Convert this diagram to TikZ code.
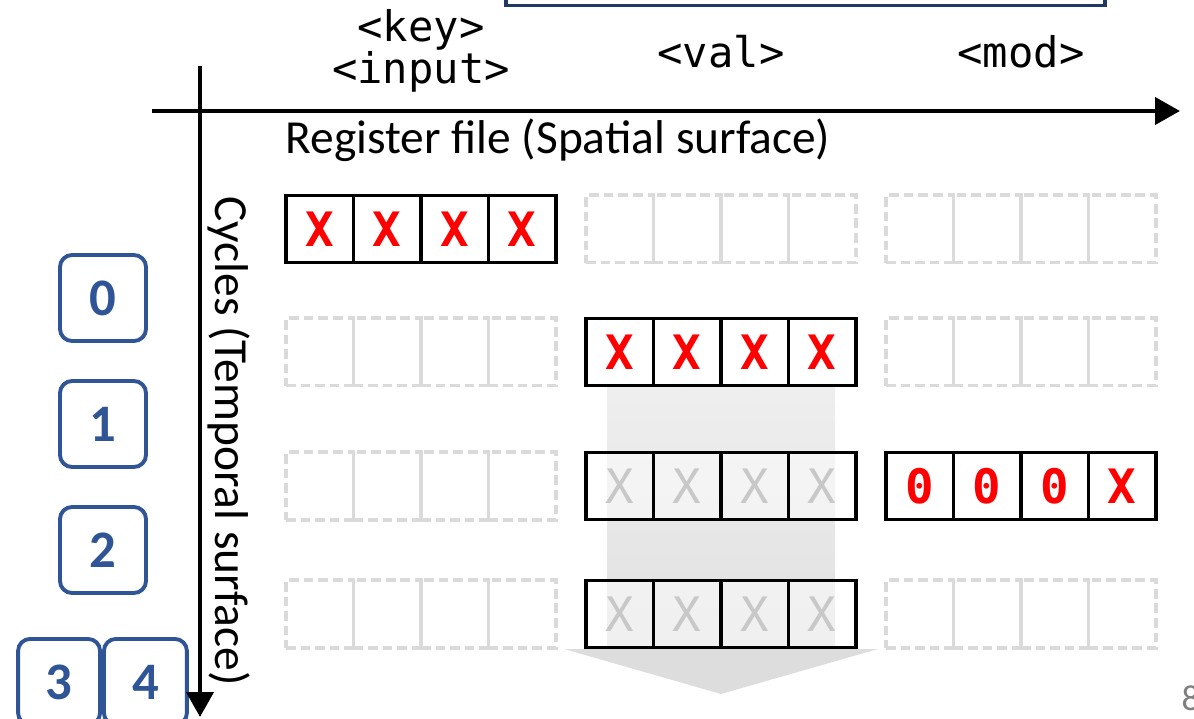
\documentclass[tikz,border=0pt]{standalone}
\usepackage{fontspec}
\setmainfont{Carlito}
\setmonofont{DejaVu Sans Mono}
\usepackage{tikz}
\usetikzlibrary{arrows.meta, positioning}
\usepackage{xcolor}

\definecolor{cycblue}{HTML}{2F5597}
\definecolor{navy}{HTML}{203864}
\definecolor{ghostgray}{HTML}{DADADA}
\definecolor{fadedx}{HTML}{C8C8C8}
\definecolor{pagegray}{HTML}{7F7F7F}

\begin{document}
\begin{tikzpicture}[x=0.02cm, y=-0.02cm, thick, >={Triangle[length=0.5cm, width=0.54cm]}]

		% Define styles
		\tikzstyle{axis} = [line width=2.3pt, black]
		\tikzstyle{cell} = [rectangle, draw, line width=1.8pt, fill=white, minimum size=1.35cm, inner sep=0pt, text centered, text=red, font=\fontsize{27}{30}\selectfont\ttfamily\bfseries]
		\tikzstyle{faded} = [cell, fill opacity=0.5, text opacity=1, text=fadedx, font=\fontsize{27}{30}\selectfont\ttfamily]
		\tikzstyle{ghost} = [rectangle, draw=ghostgray, line width=2pt, dash pattern=on 5.5pt off 2.8pt, minimum size=1.35cm, inner sep=0pt]
		\tikzstyle{cycbox} = [rectangle, draw=cycblue, line width=2.2pt, rounded corners=0.24cm, fill=white, minimum size=1.72cm, inner sep=0pt, text=cycblue, font=\fontsize{30}{32}\selectfont\bfseries]
		\tikzstyle{label} = [font=\fontsize{27}{30}\selectfont]
		\tikzstyle{field} = [font=\fontsize{24}{28}\selectfont\ttfamily]

		\clip (0,0) rectangle (1194,719);

		% Banner at the top edge
		\node[rectangle, draw=navy, line width=1.8pt, fill=white, minimum width=11.98cm, minimum height=1cm, anchor=south] (banner) at (805.5,7) {};

		% Data flow band
		\shade[top color=gray!13, bottom color=gray!24] (607,386) rectangle (835,648);
		\fill[gray!27] (564,649) -- (878,649) -- (721,694) -- cycle;

		% Empty registers
		\foreach \row/\yy/\grp/\xx in {0/229/val/586, 0/229/mod/886, 1/352/key/286, 1/352/mod/886, 2/486/key/286, 3/614/key/286, 3/614/mod/886}
			\foreach \i in {1,...,4}
				\node[ghost] (\grp\row-\i) at ({\xx+67.5*\i-33.75},\yy) {};

		% Written registers
		\foreach \t [count=\i] in {X,X,X,X}
			\node[cell] (key0-\i) at ({286+67.5*\i-33.75},229) {\t};
		\foreach \t [count=\i] in {X,X,X,X}
			\node[cell] (val1-\i) at ({586+67.5*\i-33.75},352) {\t};
		\foreach \t [count=\i] in {X,X,X,X}
			\node[faded] (val2-\i) at ({586+67.5*\i-33.75},486) {\t};
		\foreach \t [count=\i] in {0,0,0,X}
			\node[cell] (mod2-\i) at ({886+67.5*\i-33.75},486) {\t};
		\foreach \t [count=\i] in {X,X,X,X}
			\node[faded] (val3-\i) at ({586+67.5*\i-33.75},614) {\t};

		% Cycle markers
		\node[cycbox] (cyc0) at (103,298) {0};
		\node[cycbox] (cyc1) at (103,424) {1};
		\node[cycbox] (cyc2) at (103,550) {2};
		\node[cycbox, minimum width=1.64cm, anchor=north east] (cyc3) at (102,637) {\raisebox{-0.08cm}{3}};
		\node[cycbox, minimum width=1.66cm, anchor=north west] (cyc4) at (102,637) {\raisebox{-0.08cm}{4}};

		% Arrows
		\coordinate (xstart) at (152,111);
		\coordinate (xend) at (1180,111);
		\coordinate (ystart) at (200,66);
		\coordinate (yend) at (200,717);
		\draw[axis, ->] (xstart) -- (xend);
		\draw[axis, ->] (ystart) -- (yend);

		% Labels
		\node[label] (spatial) at (558,140) {Register file (Spatial surface)};
		\node[label, rotate=-90] (temporal) at (229,441) {Cycles (Temporal surface)};
		\node[field] (keyname) at (421,30) {<key>};
		\node[field] (inputname) at (421,72) {<input>};
		\node[field] (valname) at (721,52) {<val>};
		\node[field] (modname) at (1021,52) {<mod>};
		\node[text=pagegray, font=\fontsize{20.6}{24}\selectfont, anchor=west, inner sep=0pt] (page) at (1181,698) {8};

	\end{tikzpicture}
\end{document}
